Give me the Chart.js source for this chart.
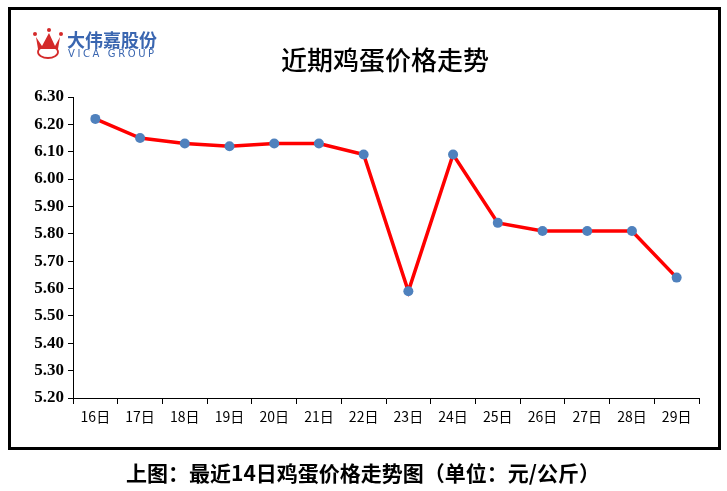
<!DOCTYPE html>
<html>
<head>
<meta charset="utf-8">
<script src="https://cdn.jsdelivr.net/npm/chart.js@4.4.1/dist/chart.umd.min.js"></script>
<style>
  html, body { margin: 0; padding: 0; background: #fff; }
  #wrap { width: 727px; height: 491px; }
</style>
</head>
<body>
<div id="wrap"><canvas id="eggChart" width="727" height="491"></canvas></div>
<script>
// 近14日鸡蛋价格 (元/公斤)
var days = ['16日', '17日', '18日', '19日', '20日', '21日', '22日', '23日', '24日', '25日', '26日', '27日', '28日', '29日'];
var prices = [6.22, 6.15, 6.13, 6.12, 6.13, 6.13, 6.09, 5.59, 6.09, 5.84, 5.81, 5.81, 5.81, 5.64];
var yMin = 5.20, yMax = 6.30, yStep = 0.10;

var titleText = '近期鸡蛋价格走势';
var captionText = '上图：最近14日鸡蛋价格走势图（单位：元/公斤）';
var logoCn = '大伟嘉股份';
var logoEn = 'VICA GROUP';

// frame, logo, title and caption drawn on the canvas
var decor = {
  id: 'decor',
  beforeDraw: function(chart) {
    var c = chart.ctx;
    c.save();
    c.fillStyle = '#fff';
    c.fillRect(0, 0, chart.width, chart.height);
    c.restore();
  },
  afterDraw: function(chart) {
    var c = chart.ctx;
    c.save();
    // outer box
    c.strokeStyle = '#000';
    c.lineWidth = 3;
    c.strokeRect(9.5, 8.5, 710, 440);

    // logo crown
    c.fillStyle = '#d42a2a';
    c.strokeStyle = '#d42a2a';
    [[35, 34], [49, 30], [61, 34]].forEach(function(p) {
      c.beginPath(); c.arc(p[0], p[1], 2, 0, Math.PI * 2); c.fill();
    });
    c.beginPath();
    c.moveTo(36, 37); c.lineTo(42, 46); c.lineTo(49, 33); c.lineTo(55, 46); c.lineTo(60, 37);
    c.lineTo(58, 49); c.lineTo(38, 49); c.closePath(); c.fill();
    c.lineWidth = 1.8;
    c.beginPath(); c.ellipse(48, 52, 10, 6, 0, 0, Math.PI * 2); c.stroke();

    c.fillStyle = '#3a66b0';
    c.textBaseline = 'middle';
    c.textAlign = 'left';
    c.font = 'bold 18px "Noto Sans CJK SC"';
    c.fillText(logoCn, 67, 40);
    c.font = '10px "DejaVu Sans"';
    if ('letterSpacing' in c) c.letterSpacing = '2.6px';
    c.fillText(logoEn, 68, 54);
    if ('letterSpacing' in c) c.letterSpacing = '0px';

    // title
    c.fillStyle = '#000';
    c.textAlign = 'center';
    c.font = '500 26px "Noto Sans CJK SC"';
    c.fillText(titleText, 385, 60);

    // caption
    c.font = 'bold 21px "Noto Sans CJK SC"';
    c.fillText(captionText, 363, 473);
    c.restore();
  }
};

var ctx = document.getElementById('eggChart').getContext('2d');
var eggChart = new Chart(ctx, {
  type: 'line',
  data: {
    labels: days,
    datasets: [{
      label: '鸡蛋价格',
      data: prices,
      borderColor: '#ff0000',
      borderWidth: 3.5,
      tension: 0,
      pointRadius: 5,
      pointBackgroundColor: '#4f81bd',
      pointBorderColor: '#4f81bd',
      pointBorderWidth: 0,
      pointHoverRadius: 5
    }]
  },
  options: {
    responsive: false,
    animation: false,
    layout: { padding: { left: 10, right: 28, top: 97, bottom: 53 } },
    plugins: {
      legend: { display: false },
      title: { display: false },
      tooltip: { enabled: false }
    },
    scales: {
      x: {
        offset: true,
        grid: { offset: true, drawOnChartArea: false, drawTicks: true, tickLength: 6, color: '#000' },
        border: { display: true, color: '#000', width: 1 },
        ticks: {
          color: '#000',
          padding: 4,
          maxRotation: 0,
          font: { family: '"Noto Sans CJK SC"', size: 14, weight: 400 }
        },
        afterFit: function(scale) { scale.height = 40; }
      },
      y: {
        min: yMin,
        max: yMax,
        grid: { drawOnChartArea: false, drawTicks: true, tickLength: 5, color: '#000' },
        border: { display: true, color: '#000', width: 1 },
        ticks: {
          stepSize: yStep,
          color: '#000',
          padding: 4,
          font: { family: '"Liberation Serif"', size: 17, weight: 'bold' },
          callback: function(v) { return Number(v).toFixed(2); }
        },
        afterFit: function(scale) { scale.width = 63; }
      }
    }
  },
  plugins: [decor]
});
</script>
</body>
</html>
